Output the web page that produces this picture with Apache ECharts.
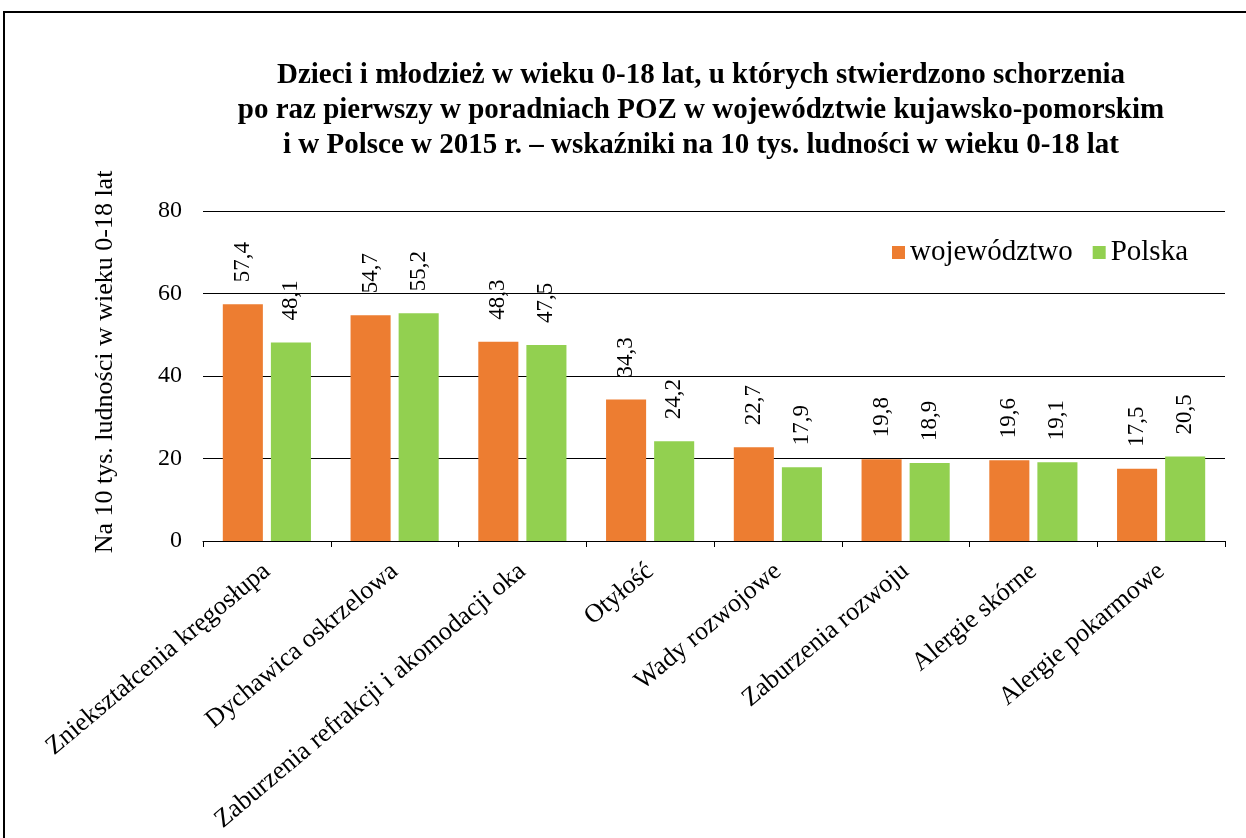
<!DOCTYPE html>
<html>
<head>
<meta charset="utf-8">
<script src="https://cdn.jsdelivr.net/npm/echarts@6/dist/echarts.min.js"></script>
<style>
  html, body { margin: 0; padding: 0; background: #fff; overflow: hidden; }
  #chart { position: absolute; left: 0; top: 0; width: 1246px; height: 838px; }
  #frame {
    position: absolute; left: 3px; top: 11px; width: 1300px; height: 900px;
    border: 2px solid #000; pointer-events: none;
  }
</style>
</head>
<body>
<div id="chart"></div>
<div id="frame"></div>
<script>
const categories = [
  'Zniekształcenia kręgosłupa',
  'Dychawica oskrzelowa',
  'Zaburzenia refrakcji i akomodacji oka',
  'Otyłość',
  'Wady rozwojowe',
  'Zaburzenia rozwoju',
  'Alergie skórne',
  'Alergie pokarmowe',
]
const wojewodztwo = [57.4, 54.7, 48.3, 34.3, 22.7, 19.8, 19.6, 17.5]
const polska = [48.1, 55.2, 47.5, 24.2, 17.9, 18.9, 19.1, 20.5]

const FONT = '"Liberation Serif", "Times New Roman", serif'

const chart = echarts.init(document.getElementById('chart'))

const barLabel = {
  show: true,
  position: 'top',
  rotate: 90,
  align: 'left',
  verticalAlign: 'middle',
  distance: 22,
  color: '#000',
  fontFamily: FONT,
  fontSize: 23,
  formatter: (p) => String(p.value).replace('.', ','),
}

chart.setOption({
  animation: false,
  textStyle: { fontFamily: FONT },
  title: {
    text: 'Dzieci i młodzież w wieku 0-18 lat, u których stwierdzono schorzenia\npo raz pierwszy w poradniach POZ w województwie kujawsko-pomorskim\ni w Polsce w 2015 r. – wskaźniki na 10 tys. ludności w wieku 0-18 lat',
    left: 696,
    top: 53,
    textAlign: 'center',
    textStyle: {
      fontFamily: FONT,
      fontWeight: 'bold',
      fontSize: 29,
      lineHeight: 35,
      color: '#000',
    },
  },
  legend: {
    left: 887,
    top: 233,
    itemWidth: 13,
    itemHeight: 13,
    itemGap: 20,
    icon: 'rect',
    textStyle: { fontFamily: FONT, fontSize: 29, color: '#000' },
    data: ['województwo', 'Polska'],
  },
  grid: {
    left: 203,
    right: 21,
    top: 211,
    bottom: 297,
  },
  xAxis: {
    type: 'category',
    data: categories,
    axisLine: { lineStyle: { color: '#000', width: 1 } },
    axisTick: { show: true, length: 6, lineStyle: { color: '#000' } },
    axisLabel: {
      interval: 0,
      rotate: 40,
      margin: 27,
      color: '#000',
      fontFamily: FONT,
      fontSize: 26,
    },
  },
  yAxis: {
    type: 'value',
    min: 0,
    max: 80,
    interval: 20,
    name: 'Na 10 tys. ludności w wieku 0-18 lat',
    nameLocation: 'middle',
    nameGap: 85,
    nameTextStyle: { fontFamily: FONT, fontSize: 26, color: '#000', padding: [0, 0, 0, 28] },
    axisLine: { show: false },
    axisTick: { show: false },
    axisLabel: { color: '#000', fontFamily: FONT, fontSize: 24, margin: 21 },
    splitLine: { lineStyle: { color: '#000', width: 1 } },
  },
  series: [
    {
      name: 'województwo',
      type: 'bar',
      data: wojewodztwo,
      barGap: '20%',
      barCategoryGap: '31%',
      itemStyle: { color: '#ED7D31' },
      label: barLabel,
    },
    {
      name: 'Polska',
      type: 'bar',
      data: polska,
      itemStyle: { color: '#92D050' },
      label: barLabel,
    },
  ],
})
</script>
</body>
</html>
